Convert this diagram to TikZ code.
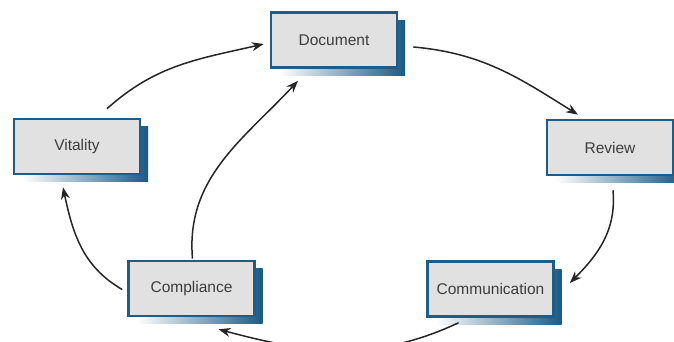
\documentclass[tikz,border=0pt]{standalone}
\usepackage{fontspec}
\setmainfont{Liberation Sans}
\usetikzlibrary{arrows.meta,shadows}
\definecolor{boxfill}{HTML}{E1E1E1}
\definecolor{boxline}{HTML}{1E5D88}
\definecolor{shadowblue}{HTML}{1A5A86}
\definecolor{txt}{HTML}{3C3C3C}
\tikzset{
  stagebox/.style={rectangle, minimum width=126pt, minimum height=55pt,
    fill=boxfill, draw=boxline, line width=2.6pt, text=txt,
    font=\fontsize{15.5}{17}\selectfont,
    general shadow={shadow xshift=8pt, shadow yshift=-8pt,
      left color=white, right color=shadowblue}},
  flow/.style={draw=black!85, line width=1.5pt, -{Stealth[length=12pt,width=9pt]}}
}
\begin{document}
\begin{tikzpicture}[x=1pt,y=1pt]
\useasboundingbox[clip] (0,0) rectangle (674,342);
\node[stagebox] (doc) at (334,302) {Document};
\node[stagebox] (vit) at (77,195.5) {Vitality};
\node[stagebox] (rev) at (610,194.5) {Review};
\node[stagebox] (comp) at (191.5,53.5) {Compliance};
\node[stagebox] (comm) at (490.5,53) {Communication};

\draw[flow] ([xshift=30pt,yshift=9pt]vit.north) to[out=42,in=193] ([xshift=-6pt,yshift=-4pt]doc.west);
\draw[flow] ([xshift=1pt,yshift=1pt]comp.north) to[out=95,in=227] ([xshift=-36pt,yshift=-12pt]doc.south);
\draw[flow] ([xshift=15pt,yshift=-7pt]doc.east) to[out=-5,in=148] ([xshift=-32pt,yshift=4pt]rev.north);
\draw[flow] ([xshift=3pt,yshift=-14pt]rev.south) to[out=-85,in=45] ([xshift=15pt,yshift=6pt]comm.east);
\draw[flow] ([xshift=-32pt,yshift=-5pt]comm.south) to[out=-155,in=-15] ([xshift=27pt,yshift=-12pt]comp.south);
\draw[flow] ([xshift=-5pt,yshift=-1pt]comp.west) to[out=150,in=-78] ([xshift=-14pt,yshift=-12pt]vit.south);
\end{tikzpicture}
\end{document}
